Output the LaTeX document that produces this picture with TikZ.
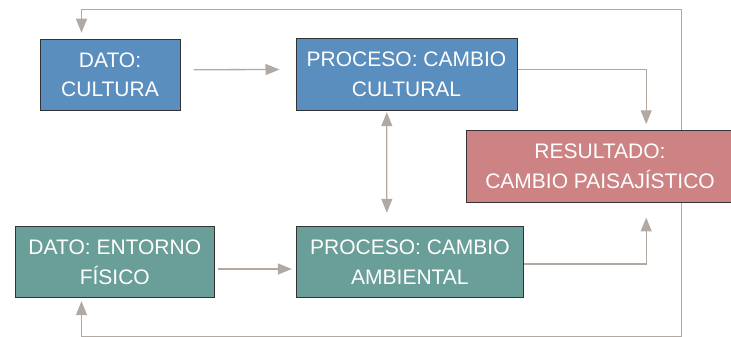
\documentclass[tikz,border=0pt]{standalone}
\usepackage{fontspec}
\setmainfont{Liberation Sans}
\usetikzlibrary{positioning, calc, arrows.meta}

\definecolor{culturablue}{RGB}{89,142,190}
\definecolor{entornoteal}{RGB}{106,158,152}
\definecolor{resultadored}{RGB}{205,131,131}
\definecolor{flechagris}{RGB}{178,170,162}

\begin{document}
\begin{tikzpicture}[x=1pt, y=-1pt,
	caja/.style={draw=black!80, line width=1pt, text=white, align=center, inner sep=0pt,
		minimum height=71, font=\fontsize{21}{29.5}\selectfont},
	flecha/.style={flechagris, line width=1.3pt, -{Triangle[length=14pt, width=11pt]}},
	dobleflecha/.style={flecha, {Triangle[length=14pt, width=11pt]}-{Triangle[length=14pt, width=11pt]}}
]
	\clip (0,0) rectangle (731,337);

	% cajas
	\node[caja, fill=culturablue, minimum width=140] (cultura) at (110,74.75) {DATO:\\CULTURA};
	\node[caja, fill=culturablue, minimum width=221] (cultural) at (406.5,74.5) {PROCESO: CAMBIO\\CULTURAL};
	\node[caja, fill=resultadored, minimum width=268, minimum height=72] (resultado) at (600,166.25) {RESULTADO:\\CAMBIO PAISAJÍSTICO};
	\node[caja, fill=entornoteal, minimum width=199] (entorno) at (114.8,262.2) {DATO: ENTORNO\\FÍSICO};
	\node[caja, fill=entornoteal, minimum width=227.7] (ambiental) at (409.9,262.2) {PROCESO: CAMBIO\\AMBIENTAL};

	% flechas
	\draw[flecha] ($(cultura.east)+(13,-5)$) -- ($(cultural.west)+(-16,-5)$);
	\draw[flecha] ($(cultural.east)+(0,-5.2)$) -| ($(resultado.north west)+(180.7,-5.5)$);
	\draw[dobleflecha] ($(cultural.south west)+(91.3,1.7)$) -- ($(ambiental.north west)+(91.3,-13.4)$);
	\draw[flecha] ($(entorno.east)+(3,6.8)$) -- ($(ambiental.west)+(-3.7,6.8)$);
	\draw[flecha] ($(ambiental.east)+(0,1.8)$) -| ($(resultado.south west)+(180.7,14.7)$);

	% retroalimentacion
	\draw[flecha] ($(resultado.south west)+(216.3,0)$) -- ++(0,133.7) -| ($(entorno.south west)+(66.7,3)$);
	\draw[flecha] ($(resultado.north west)+(216.3,0)$) -- ++(0,-120.5) -| ($(cultura.north west)+(42,-6)$);
\end{tikzpicture}
\end{document}
